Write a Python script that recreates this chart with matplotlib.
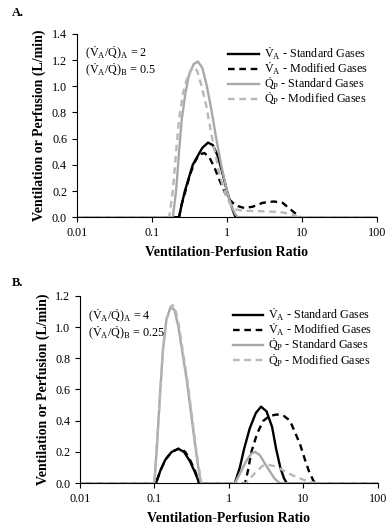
import matplotlib
matplotlib.use('Agg')
import matplotlib.pyplot as plt

# Fontes tipo Times para reproduzir o estilo do artigo
plt.rcParams['font.family'] = ['Liberation Serif', 'DejaVu Serif']
plt.rcParams['mathtext.fontset'] = 'custom'
plt.rcParams['mathtext.rm'] = 'Liberation Serif'
plt.rcParams['mathtext.it'] = 'Liberation Serif:italic'
plt.rcParams['mathtext.bf'] = 'Liberation Serif:bold'

# ---- Painel A: dados ----
a_va_std_x = [0.01, 0.23, 0.25, 0.275, 0.31, 0.35, 0.4, 0.47, 0.56, 0.65, 0.75, 0.85, 1.0, 1.1, 1.2, 1.3, 100]
a_va_std_y = [0, 0, 0.1, 0.2, 0.3, 0.4, 0.46, 0.53, 0.57, 0.55, 0.47, 0.36, 0.2, 0.12, 0.05, 0, 0]

a_va_mod_x = [0.01, 0.23, 0.25, 0.28, 0.32, 0.37, 0.43, 0.5, 0.58, 0.68, 0.8, 0.95, 1.1, 1.3, 1.7, 2.2, 3.0, 4.2, 5.5, 7.0, 8.5, 9.5, 100]
a_va_mod_y = [0, 0, 0.1, 0.2, 0.32, 0.42, 0.48, 0.49, 0.46, 0.38, 0.28, 0.18, 0.13, 0.09, 0.07, 0.08, 0.11, 0.12, 0.11, 0.06, 0.02, 0, 0]

a_qp_std_x = [0.01, 0.19, 0.21, 0.23, 0.25, 0.28, 0.31, 0.36, 0.41, 0.47, 0.54, 0.62, 0.72, 0.85, 1.0, 1.15, 1.3, 1.4, 100]
a_qp_std_y = [0, 0, 0.2, 0.5, 0.75, 0.95, 1.08, 1.17, 1.19, 1.14, 1.0, 0.82, 0.6, 0.38, 0.2, 0.08, 0.02, 0, 0]

a_qp_mod_x = [0.01, 0.17, 0.19, 0.21, 0.23, 0.26, 0.3, 0.35, 0.4, 0.46, 0.53, 0.6, 0.7, 0.8, 0.95, 1.1, 1.3, 1.6, 3.0, 5.0, 7.0, 9.0, 100]
a_qp_mod_y = [0, 0, 0.2, 0.5, 0.75, 0.95, 1.08, 1.15, 1.12, 1.0, 0.85, 0.68, 0.48, 0.32, 0.18, 0.1, 0.06, 0.05, 0.045, 0.04, 0.025, 0, 0]

# ---- Painel B ----
b_va_std_x = [0.01, 0.105, 0.12, 0.14, 0.17, 0.21, 0.25, 0.3, 0.35, 0.4, 1.2, 1.4, 1.6, 1.9, 2.3, 2.7, 3.2, 3.8, 4.3, 4.9, 5.5, 6.0, 100]
b_va_std_y = [0, 0, 0.08, 0.15, 0.2, 0.22, 0.2, 0.14, 0.07, 0, 0, 0.1, 0.22, 0.35, 0.45, 0.49, 0.46, 0.36, 0.22, 0.1, 0.03, 0, 0]

b_va_mod_x = [0.01, 0.105, 0.12, 0.14, 0.17, 0.22, 0.26, 0.3, 0.35, 0.4, 1.65, 1.8, 2.0, 2.4, 2.9, 3.5, 4.4, 5.5, 6.6, 7.8, 9.0, 10.5, 12.0, 13.5, 14.3, 100]
b_va_mod_y = [0, 0, 0.08, 0.15, 0.2, 0.225, 0.2, 0.15, 0.08, 0, 0, 0.08, 0.2, 0.32, 0.4, 0.43, 0.44, 0.43, 0.4, 0.32, 0.25, 0.15, 0.07, 0.02, 0, 0]

b_qp_std_x = [0.01, 0.1, 0.11, 0.12, 0.13, 0.145, 0.165, 0.185, 0.21, 0.24, 0.27, 0.3, 0.34, 0.38, 0.42, 1.2, 1.4, 1.7, 2.0, 2.25, 2.6, 3.0, 3.5, 4.1, 4.8, 100]
b_qp_std_y = [0, 0, 0.3, 0.6, 0.85, 1.05, 1.13, 1.11, 1.0, 0.82, 0.67, 0.5, 0.3, 0.13, 0, 0, 0.06, 0.14, 0.19, 0.2, 0.18, 0.13, 0.08, 0.03, 0, 0]

b_qp_mod_x = [0.01, 0.1, 0.11, 0.12, 0.13, 0.145, 0.175, 0.19, 0.215, 0.245, 0.275, 0.305, 0.345, 0.385, 0.43, 1.7, 2.0, 2.4, 2.8, 3.3, 4.0, 5.0, 6.5, 8.5, 11.0, 15.0, 100]
b_qp_mod_y = [0, 0, 0.3, 0.6, 0.85, 1.05, 1.14, 1.12, 1.0, 0.82, 0.67, 0.5, 0.3, 0.13, 0, 0, 0.04, 0.08, 0.11, 0.12, 0.11, 0.09, 0.06, 0.035, 0.015, 0, 0]

x_ticks = [0.01, 0.1, 1, 10, 100]
x_tick_labels = ['0.01', '0.1', '1', '10', '100']

legend_labels = [r'$\dot{\mathrm{V}}_{\mathrm{A}}$ - Standard Gases',
                 r'$\dot{\mathrm{V}}_{\mathrm{A}}$ - Modified Gases',
                 r'$\dot{\mathrm{Q}}_{\mathrm{P}}$ - Standard Gases',
                 r'$\dot{\mathrm{Q}}_{\mathrm{P}}$ - Modified Gases']

GRAY = '#a8a8a8'
GRAY_LIGHT = '#b8b8b8'
FS = 8.7


def draw_panel(ax, curves, ymax, ystep, ratio_a, ratio_b, txt_y, leg_anchor):
    styles = [dict(color='black', lw=1.7, ls='-'),
              dict(color='black', lw=1.7, ls=(0, (2.8, 2.0))),
              dict(color=GRAY, lw=1.7, ls='-'),
              dict(color=GRAY_LIGHT, lw=1.7, ls=(0, (2.8, 2.0)))]
    for (xs, ys), st, lab in zip(curves, styles, legend_labels):
        ax.plot(xs, ys, label=lab, **st)

    ax.set_xscale('log')
    ax.set_xlim(0.01, 100)
    ax.set_ylim(0, ymax)
    ax.set_xticks(x_ticks)
    ax.set_xticklabels(x_tick_labels)
    ax.minorticks_off()
    n = int(round(ymax / ystep))
    yt = [i * ystep for i in range(n + 1)]
    ax.set_yticks(yt)
    ax.set_yticklabels(['%.1f' % v for v in yt])
    ax.tick_params(direction='out', length=3.5, width=0.8, labelsize=FS, pad=3.5)
    for s in ['top', 'right']:
        ax.spines[s].set_visible(False)
    ax.spines['left'].set_linewidth(0.8)
    ax.spines['bottom'].set_linewidth(0.8)

    ax.set_xlabel('Ventilation-Perfusion Ratio', fontsize=10, fontweight='bold', labelpad=5)
    ax.set_ylabel('Ventilation or Perfusion (L/min)', fontsize=10, fontweight='bold', labelpad=4)

    ax.text(0.027, txt_y[0], r'$(\dot{\mathrm{V}}_{\mathrm{A}}/\dot{\mathrm{Q}})_{\mathrm{A}}$ = ' + ratio_a,
            transform=ax.transAxes, fontsize=FS, va='center')
    ax.text(0.027, txt_y[1], r'$(\dot{\mathrm{V}}_{\mathrm{A}}/\dot{\mathrm{Q}})_{\mathrm{B}}$ = ' + ratio_b,
            transform=ax.transAxes, fontsize=FS, va='center')

    ax.legend(loc='upper left', bbox_to_anchor=leg_anchor, frameon=False, fontsize=FS,
              handlelength=2.5, handletextpad=0.45, labelspacing=-0.13, borderaxespad=0.0,
              borderpad=0.0)


fig = plt.figure(figsize=(3.88, 5.31), dpi=100)

ax_a = fig.add_axes([0.198, 0.591, 0.774, 0.345])
draw_panel(ax_a,
           [(a_va_std_x, a_va_std_y), (a_va_mod_x, a_va_mod_y),
            (a_qp_std_x, a_qp_std_y), (a_qp_mod_x, a_qp_mod_y)],
           1.4, 0.2, '2', '0.5', (0.896, 0.803), (0.505, 0.939))

ax_b = fig.add_axes([0.206, 0.090, 0.768, 0.353])
draw_panel(ax_b,
           [(b_va_std_x, b_va_std_y), (b_va_mod_x, b_va_mod_y),
            (b_qp_std_x, b_qp_std_y), (b_qp_mod_x, b_qp_mod_y)],
           1.2, 0.2, '4', '0.25', (0.888, 0.802), (0.513, 0.944))

fig.text(12 / 388, 1 - 13 / 531, 'A.', fontsize=9, fontweight='bold', va='center')
fig.text(12 / 388, 1 - 283 / 531, 'B.', fontsize=9, fontweight='bold', va='center')

fig.savefig('out.png', dpi=100)
